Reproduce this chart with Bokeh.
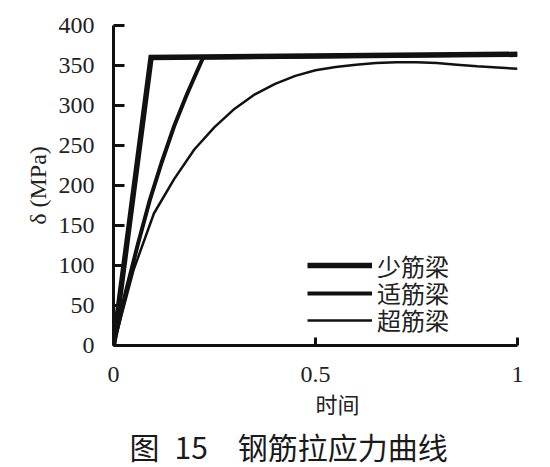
from bokeh.plotting import figure
from bokeh.models import Range1d, FixedTicker, Legend, LegendItem
from bokeh.embed import file_html
from bokeh.resources import INLINE

# ---- data ----
t_few = [0.0, 0.093, 1.0]
v_few = [0, 360, 364]

t_bal = [0.0, 0.03, 0.06, 0.09, 0.12, 0.15, 0.18, 0.20, 0.222, 1.0]
v_bal = [0, 66, 126, 182, 230, 274, 312, 335, 360, 364]

t_over = [0.0, 0.05, 0.10, 0.15, 0.20, 0.25, 0.30, 0.35, 0.40, 0.45, 0.50,
          0.55, 0.60, 0.65, 0.70, 0.75, 0.80, 0.85, 0.90, 0.95, 1.0]
v_over = [0, 95, 165, 208, 245, 273, 296, 314, 327, 337, 344,
          348, 351, 353, 354, 354, 353, 351, 349, 347.5, 346]

series_names = ["少筋梁", "适筋梁", "超筋梁"]
x_ticks = [0, 0.5, 1]
x_tick_labels = ["0", "0.5", "1"]
y_ticks = [0, 50, 100, 150, 200, 250, 300, 350, 400]
x_label = "\u3000\u3000时间"
y_label = "δ (MPa)"
title_text = "图\u200215\u3000钢筋拉应力曲线"

INK = "#111111"
TXT = "#222222"

p = figure(frame_width=404, frame_height=320,
           min_border_left=113, min_border_top=25, min_border_right=25,
           min_border_bottom=122,
           x_range=Range1d(0, 1), y_range=Range1d(0, 400),
           output_backend="svg", toolbar_location=None,
           title=title_text, title_location="below")
p.outline_line_color = None
p.grid.visible = False
p.background_fill_color = "white"

p.title.align = "left"
p.title.offset = 16
p.title.standoff = 0
p.title.text_font = "Noto Sans CJK SC"
p.title.text_font_size = "30px"
p.title.text_font_style = "normal"
p.title.text_color = "#1a1a1a"

r1 = p.line(t_few, v_few, line_width=5.5, line_color=INK, line_join="miter")
r2 = p.line(t_bal, v_bal, line_width=4, line_color=INK, line_join="miter")
r3 = p.line(t_over, v_over, line_width=2.5, line_color=INK)

for ax in (p.xaxis[0], p.yaxis[0]):
    ax.axis_line_width = 3
    ax.axis_line_color = INK
    ax.major_tick_line_width = 3
    ax.major_tick_line_color = INK
    ax.major_tick_in = 11
    ax.major_tick_out = 0
    ax.minor_tick_line_color = None
    ax.major_label_text_font = "Liberation Serif"
    ax.major_label_text_font_size = "24px"
    ax.major_label_text_color = TXT

p.xaxis.ticker = FixedTicker(ticks=x_ticks)
p.xaxis.major_label_overrides = {k: v for k, v in zip(x_ticks, x_tick_labels)}
p.xaxis.major_label_standoff = 21
p.xaxis.major_tick_in = 8
p.xaxis.axis_label = x_label
p.xaxis.axis_label_text_font = "Noto Sans CJK SC"
p.xaxis.axis_label_text_font_size = "22px"
p.xaxis.axis_label_text_font_style = "normal"
p.xaxis.axis_label_text_color = TXT
p.xaxis.axis_label_standoff = 2

p.yaxis.ticker = FixedTicker(ticks=y_ticks)
p.yaxis.major_label_standoff = 19
p.yaxis.axis_label = y_label
p.yaxis.axis_label_text_font = "Liberation Serif"
p.yaxis.axis_label_text_font_size = "24px"
p.yaxis.axis_label_text_font_style = "normal"
p.yaxis.axis_label_text_color = TXT
p.yaxis.axis_label_standoff = 5

# one legend per row so the rows sit as tight as in the reference
rows = [(r1, 62.5), (r2, 35.0), (r3, 8.0)]
for name, (rend, ybot) in zip(series_names, rows):
    lg = Legend(items=[LegendItem(label=name, renderers=[rend])],
                location=(194, ybot), padding=0, margin=0, spacing=0,
                glyph_width=65, glyph_height=20, label_height=20,
                label_standoff=5, border_line_color=None,
                background_fill_alpha=0,
                label_text_font="Noto Sans CJK SC",
                label_text_font_size="24px", label_text_color=TXT)
    p.add_layout(lg)

open("out.html", "w").write(file_html(p, INLINE))
